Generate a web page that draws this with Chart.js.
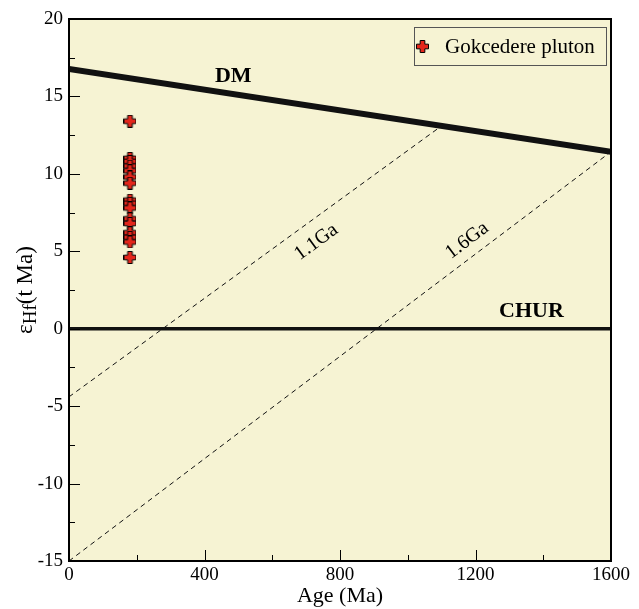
<!DOCTYPE html>
<html lang="en">
<head>
    <meta charset="UTF-8">
    <title>eHf vs Age</title>
    <script src="https://cdn.jsdelivr.net/npm/chart.js"></script>
    <style>
        body { margin: 0; background: #ffffff; }
        #box { width: 639px; height: 609px; }
    </style>
</head>
<body>
    <div id="box"><canvas id="myChart" width="639" height="609"></canvas></div>
<script>
    // valores
    var idadeAmostra = 180
    var epsAmostra = [13.4, 11.0, 10.8, 10.5, 10.2, 9.8, 9.4, 8.3, 8.1, 7.8, 7.1, 6.8, 6.2, 5.9, 5.6, 4.6]
    var idadeDM = [0, 1600]
    var epsDM = [16.77, 11.43]
    var idadeCHUR = [0, 1600]
    var epsCHUR = [0, 0]
    var idade11 = [0, 1100]
    var eps11 = [-4.4, 13.1]
    var idade16 = [0, 1600]
    var eps16 = [-15, 11.43]
    var ticksX = [0, 400, 800, 1200, 1600]
    var ticksXMenor = [200, 600, 1000, 1400]
    var ticksY = [-15, -10, -5, 0, 5, 10, 15, 20]
    var ticksYMenor = [-12.5, -7.5, -2.5, 2.5, 7.5, 12.5, 17.5]

    var fonte = '"Liberation Serif", "Times New Roman", serif'

    function pontos(xs, ys) {
        return xs.map((x, i) => ({ x: x, y: ys[i] }))
    }

    // simbolo de cruz vermelha
    function criarCruz(tam) {
        var c = document.createElement('canvas')
        c.width = tam; c.height = tam
        var g = c.getContext('2d')
        var a = tam * 0.18, m = tam / 2
        g.beginPath()
        g.moveTo(m - a, 0.5); g.lineTo(m + a, 0.5); g.lineTo(m + a, m - a); g.lineTo(tam - 0.5, m - a)
        g.lineTo(tam - 0.5, m + a); g.lineTo(m + a, m + a); g.lineTo(m + a, tam - 0.5); g.lineTo(m - a, tam - 0.5)
        g.lineTo(m - a, m + a); g.lineTo(0.5, m + a); g.lineTo(0.5, m - a); g.lineTo(m - a, m - a)
        g.closePath()
        g.fillStyle = '#e3261b'
        g.fill()
        g.lineWidth = 1
        g.strokeStyle = '#000000'
        g.stroke()
        return c
    }
    var cruz = criarCruz(13)

    var pluginFundo = {
        id: 'fundo',
        beforeDatasetsDraw(chart) {
            var a = chart.chartArea, ctx = chart.ctx
            ctx.save()
            ctx.fillStyle = '#f6f3d3'
            ctx.fillRect(a.left, a.top, a.right - a.left, a.bottom - a.top)
            ctx.restore()
        },
        afterDatasetsDraw(chart) {
            var a = chart.chartArea, ctx = chart.ctx
            var sx = chart.scales.x, sy = chart.scales.y
            ctx.save()
            // ticks para dentro
            ctx.strokeStyle = '#000000'
            ctx.lineWidth = 1
            ctx.beginPath()
            ticksX.forEach(v => { var p = Math.round(sx.getPixelForValue(v)) + 0.5; ctx.moveTo(p, a.bottom); ctx.lineTo(p, a.bottom - 11) })
            ticksXMenor.forEach(v => { var p = Math.round(sx.getPixelForValue(v)) + 0.5; ctx.moveTo(p, a.bottom); ctx.lineTo(p, a.bottom - 6) })
            ticksY.forEach(v => { var p = Math.round(sy.getPixelForValue(v)) + 0.5; ctx.moveTo(a.left, p); ctx.lineTo(a.left + 11, p) })
            ticksYMenor.forEach(v => { var p = Math.round(sy.getPixelForValue(v)) + 0.5; ctx.moveTo(a.left, p); ctx.lineTo(a.left + 6, p) })
            ctx.stroke()
            // moldura
            ctx.lineWidth = 2
            ctx.strokeRect(a.left, a.top, a.right - a.left, a.bottom - a.top)

            // rotulos das linhas
            ctx.fillStyle = '#000000'
            ctx.font = 'bold 22px ' + fonte
            ctx.textAlign = 'center'
            ctx.textBaseline = 'middle'
            ctx.fillText('DM', sx.getPixelForValue(485), sy.getPixelForValue(16.3))
            ctx.fillText('CHUR', sx.getPixelForValue(1365), sy.getPixelForValue(1.1))
            ctx.font = '20px ' + fonte
            ctx.save()
            ctx.translate(sx.getPixelForValue(730), sy.getPixelForValue(5.6))
            ctx.rotate(-36 * Math.PI / 180)
            ctx.fillText('1.1Ga', 0, 0)
            ctx.restore()
            ctx.save()
            ctx.translate(sx.getPixelForValue(1175), sy.getPixelForValue(5.7))
            ctx.rotate(-37 * Math.PI / 180)
            ctx.fillText('1.6Ga', 0, 0)
            ctx.restore()

            // legenda
            var lx = 414, ly = 27, lw = 192, lh = 38
            ctx.fillStyle = '#f6f3d3'
            ctx.fillRect(lx, ly, lw, lh)
            ctx.lineWidth = 1
            ctx.strokeStyle = '#555555'
            ctx.strokeRect(lx + 0.5, ly + 0.5, lw, lh)
            ctx.drawImage(cruz, lx + 2, ly + 13)
            ctx.fillStyle = '#000000'
            ctx.font = '21px ' + fonte
            ctx.textAlign = 'left'
            ctx.fillText(chart.data.datasets[4].label, lx + 31, ly + 20)

            // titulo do eixo y com subscrito
            ctx.save()
            ctx.translate(25, 290)
            ctx.rotate(-Math.PI / 2)
            ctx.textBaseline = 'alphabetic'
            ctx.font = '23px ' + fonte
            var w1 = ctx.measureText('ε').width
            ctx.font = '19px ' + fonte
            var w2 = ctx.measureText('Hf').width
            ctx.font = '23px ' + fonte
            var w3 = ctx.measureText('(t Ma)').width
            var x0 = -(w1 + w2 + w3) / 2
            ctx.font = '23px ' + fonte
            ctx.fillText('ε', x0, 7)
            ctx.font = '19px ' + fonte
            ctx.fillText('Hf', x0 + w1, 11)
            ctx.font = '23px ' + fonte
            ctx.fillText('(t Ma)', x0 + w1 + w2, 7)
            ctx.restore()
            ctx.restore()
        }
    }

    var ctx = document.getElementById('myChart')

    var grafico = new Chart(ctx, {
        type: 'scatter',
        data: {
            datasets: [
                { type: 'line', label: 'DM', data: pontos(idadeDM, epsDM), borderColor: '#111111', borderWidth: 6, pointRadius: 0, clip: 0 },
                { type: 'line', label: 'CHUR', data: pontos(idadeCHUR, epsCHUR), borderColor: '#111111', borderWidth: 3.5, pointRadius: 0, clip: 0 },
                { type: 'line', label: '1.1Ga', data: pontos(idade11, eps11), borderColor: '#111111', borderWidth: 1, borderDash: [5, 4], pointRadius: 0, clip: 0 },
                { type: 'line', label: '1.6Ga', data: pontos(idade16, eps16), borderColor: '#111111', borderWidth: 1, borderDash: [5, 4], pointRadius: 0, clip: 0 },
                { label: 'Gokcedere pluton', data: epsAmostra.map(e => ({ x: idadeAmostra, y: e })), pointStyle: cruz, pointRadius: 6 }
            ]
        },
        options: {
            responsive: false,
            animation: false,
            layout: { padding: { top: 19, right: 28, left: 0, bottom: 0 } },
            plugins: { legend: { display: false }, tooltip: { enabled: false } },
            scales: {
                x: {
                    type: 'linear', min: 0, max: 1600,
                    afterFit(s) { s.height = 48 },
                    afterBuildTicks(s) { s.ticks = ticksX.map(v => ({ value: v })) },
                    grid: { display: false, drawTicks: false },
                    border: { display: false },
                    ticks: { color: '#000000', font: { family: fonte, size: 19 }, padding: 3, maxRotation: 0, callback: v => String(v) },
                    title: { display: true, text: 'Age (Ma)', color: '#000000', font: { family: fonte, size: 22 }, padding: { top: -4, bottom: 0 } }
                },
                y: {
                    type: 'linear', min: -15, max: 20,
                    afterFit(s) { s.width = 69 },
                    afterBuildTicks(s) { s.ticks = ticksY.map(v => ({ value: v })) },
                    grid: { display: false, drawTicks: false },
                    border: { display: false },
                    ticks: { color: '#000000', font: { family: fonte, size: 19 }, padding: 6 }
                }
            }
        },
        plugins: [pluginFundo]
    });
</script>
</body>
</html>
